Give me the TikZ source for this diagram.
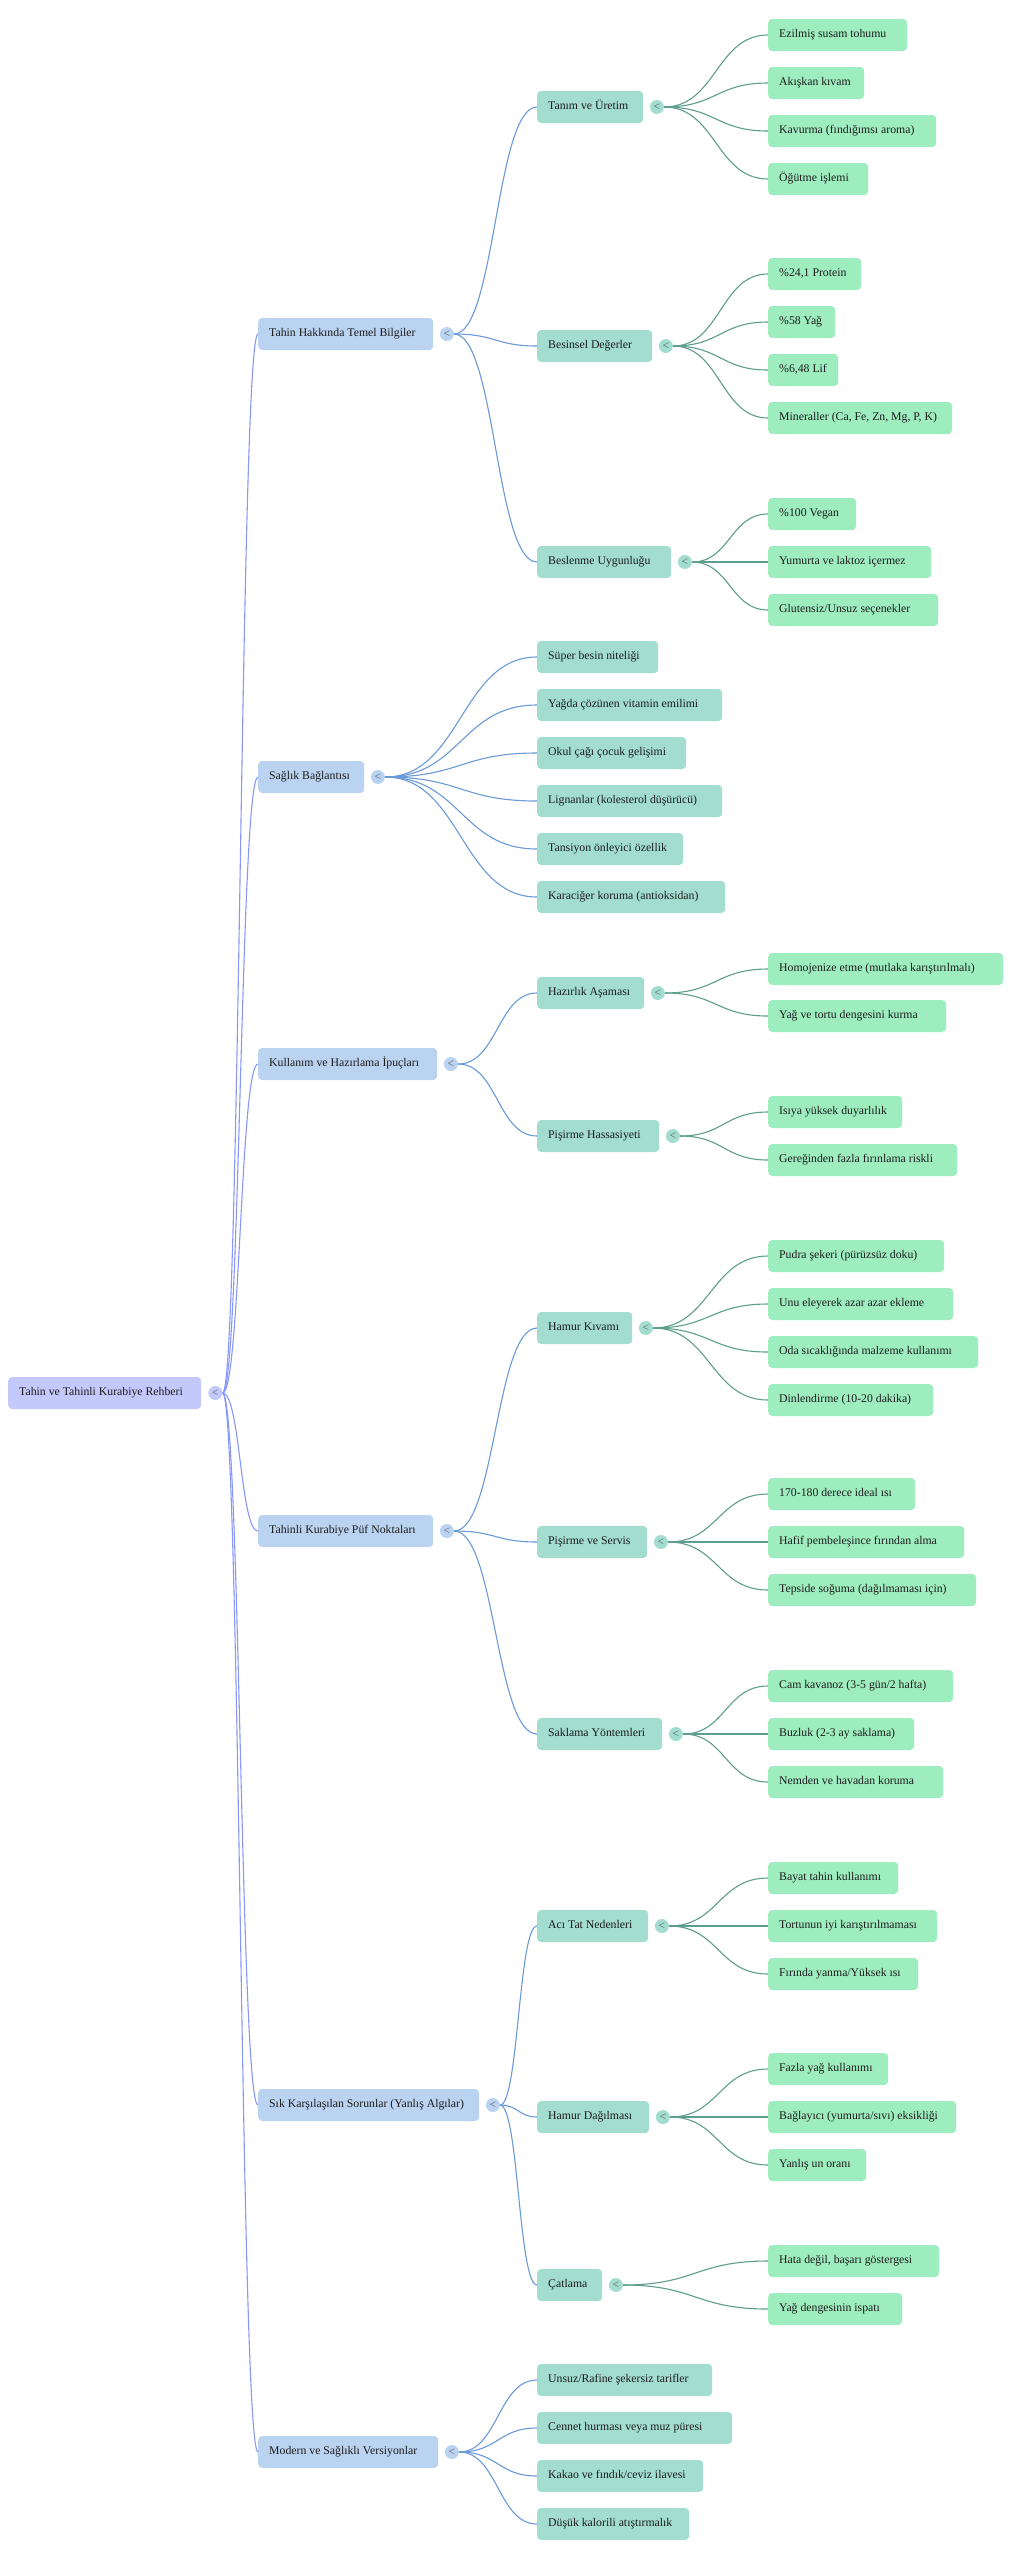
\documentclass[tikz,border=0pt]{standalone}
\usepackage{fontspec}
\setmainfont{Liberation Serif}
\usetikzlibrary{calc}
\definecolor{rootc}{HTML}{C4C9FC}
\definecolor{lonec}{HTML}{BAD3F0}
\definecolor{ltwoc}{HTML}{A2DDD0}
\definecolor{lthreec}{HTML}{9EEDBF}
\definecolor{ezero}{HTML}{8898FA}
\definecolor{eone}{HTML}{6A9AD8}
\definecolor{etwo}{HTML}{5E9E8C}
\definecolor{txtc}{HTML}{1C1C1C}
\newcommand\tx[2]{\makebox[\dimexpr#1pt-22pt\relax][l]{\strut#2}}
\newcommand\lk[3]{\draw[#1] let \p1=(#2.east), \p2=(#3.west) in (\p1) .. controls ({(\x1+\x2)/2},\y1) and ({(\x1+\x2)/2},\y2) .. (\p2);}
\tikzset{
  box/.style={rounded corners=4pt, minimum height=32pt, inner xsep=11pt, inner ysep=0pt, anchor=west, text=txtc, font=\fontsize{11.76}{14}\selectfont},
  rbox/.style={box, fill=rootc},
  onebox/.style={box, fill=lonec},
  twobox/.style={box, fill=ltwoc},
  threebox/.style={box, fill=lthreec},
  tg/.style={circle, minimum size=14pt, inner sep=0pt, text=black!65, font=\fontsize{11.5}{11.5}\selectfont},
  ez/.style={ezero, line width=1.1pt},
  eo/.style={eone, line width=1.1pt},
  et/.style={etwo, line width=1.1pt}
}
\begin{document}
\begin{tikzpicture}[x=1pt,y=-1pt]
\fill[white] (0,0) rectangle (1031,2560);
\useasboundingbox (0,0) rectangle (1031,2560);
% root
\node[rbox] (R) at (8,1393) {\tx{193}{Tahin ve Tahinli Kurabiye Rehberi}};
% level 1
\node[onebox] (A) at (258,334) {\tx{175}{Tahin Hakkında Temel Bilgiler}};
\node[onebox] (B) at (258,777) {\tx{106}{Sağlık Bağlantısı}};
\node[onebox] (C) at (258,1064) {\tx{179}{Kullanım ve Hazırlama İpuçları}};
\node[onebox] (D) at (258,1531) {\tx{175}{Tahinli Kurabiye Püf Noktaları}};
\node[onebox] (E) at (258,2105) {\tx{221}{Sık Karşılaşılan Sorunlar (Yanlış Algılar)}};
\node[onebox] (F) at (258,2452) {\tx{180}{Modern ve Sağlıklı Versiyonlar}};
% level 2
\node[twobox] (A1) at (537,107) {\tx{106}{Tanım ve Üretim}};
\node[twobox] (A2) at (537,346) {\tx{115}{Besinsel Değerler}};
\node[twobox] (A3) at (537,562) {\tx{134}{Beslenme Uygunluğu}};
\node[twobox] (B1) at (537,657) {\tx{121}{Süper besin niteliği}};
\node[twobox] (B2) at (537,705) {\tx{185}{Yağda çözünen vitamin emilimi}};
\node[twobox] (B3) at (537,753) {\tx{149}{Okul çağı çocuk gelişimi}};
\node[twobox] (B4) at (537,801) {\tx{185}{Lignanlar (kolesterol düşürücü)}};
\node[twobox] (B5) at (537,849) {\tx{146}{Tansiyon önleyici özellik}};
\node[twobox] (B6) at (537,897) {\tx{188}{Karaciğer koruma (antioksidan)}};
\node[twobox] (C1) at (537,993) {\tx{107}{Hazırlık Aşaması}};
\node[twobox] (C2) at (537,1136) {\tx{122}{Pişirme Hassasiyeti}};
\node[twobox] (D1) at (537,1328) {\tx{95}{Hamur Kıvamı}};
\node[twobox] (D2) at (537,1542) {\tx{110}{Pişirme ve Servis}};
\node[twobox] (D3) at (537,1734) {\tx{125}{Saklama Yöntemleri}};
\node[twobox] (E1) at (537,1926) {\tx{111}{Acı Tat Nedenleri}};
\node[twobox] (E2) at (537,2117) {\tx{112}{Hamur Dağılması}};
\node[twobox] (E3) at (537,2285) {\tx{65}{Çatlama}};
\node[twobox] (F1) at (537,2380) {\tx{175}{Unsuz/Rafine şekersiz tarifler}};
\node[twobox] (F2) at (537,2428) {\tx{195}{Cennet hurması veya muz püresi}};
\node[twobox] (F3) at (537,2476) {\tx{166}{Kakao ve fındık/ceviz ilavesi}};
\node[twobox] (F4) at (537,2524) {\tx{152}{Düşük kalorili atıştırmalık}};
% level 3
\node[threebox] (A1a) at (768,35) {\tx{139}{Ezilmiş susam tohumu}};
\node[threebox] (A1b) at (768,83) {\tx{96}{Akışkan kıvam}};
\node[threebox] (A1c) at (768,131) {\tx{168}{Kavurma (fındığımsı aroma)}};
\node[threebox] (A1d) at (768,179) {\tx{100}{Öğütme işlemi}};
\node[threebox] (A2a) at (768,274) {\tx{93}{\%24,1 Protein}};
\node[threebox] (A2b) at (768,322) {\tx{67}{\%58 Yağ}};
\node[threebox] (A2c) at (768,370) {\tx{70}{\%6,48 Lif}};
\node[threebox] (A2d) at (768,418) {\tx{184}{Mineraller (Ca, Fe, Zn, Mg, P, K)}};
\node[threebox] (A3a) at (768,514) {\tx{88}{\%100 Vegan}};
\node[threebox] (A3b) at (768,562) {\tx{163}{Yumurta ve laktoz içermez}};
\node[threebox] (A3c) at (768,610) {\tx{170}{Glutensiz/Unsuz seçenekler}};
\node[threebox] (C1a) at (768,969) {\tx{235}{Homojenize etme (mutlaka karıştırılmalı)}};
\node[threebox] (C1b) at (768,1016) {\tx{178}{Yağ ve tortu dengesini kurma}};
\node[threebox] (C2a) at (768,1112) {\tx{134}{Isıya yüksek duyarlılık}};
\node[threebox] (C2b) at (768,1160) {\tx{189}{Gereğinden fazla fırınlama riskli}};
\node[threebox] (D1a) at (768,1256) {\tx{176}{Pudra şekeri (pürüzsüz doku)}};
\node[threebox] (D1b) at (768,1304) {\tx{185}{Unu eleyerek azar azar ekleme}};
\node[threebox] (D1c) at (768,1352) {\tx{210}{Oda sıcaklığında malzeme kullanımı}};
\node[threebox] (D1d) at (768,1400) {\tx{165}{Dinlendirme (10-20 dakika)}};
\node[threebox] (D2a) at (768,1494) {\tx{147}{170-180 derece ideal ısı}};
\node[threebox] (D2b) at (768,1542) {\tx{196}{Hafif pembeleşince fırından alma}};
\node[threebox] (D2c) at (768,1590) {\tx{208}{Tepside soğuma (dağılmaması için)}};
\node[threebox] (D3a) at (768,1686) {\tx{185}{Cam kavanoz (3-5 gün/2 hafta)}};
\node[threebox] (D3b) at (768,1734) {\tx{146}{Buzluk (2-3 ay saklama)}};
\node[threebox] (D3c) at (768,1782) {\tx{175}{Nemden ve havadan koruma}};
\node[threebox] (E1a) at (768,1878) {\tx{130}{Bayat tahin kullanımı}};
\node[threebox] (E1b) at (768,1926) {\tx{169}{Tortunun iyi karıştırılmaması}};
\node[threebox] (E1c) at (768,1974) {\tx{150}{Fırında yanma/Yüksek ısı}};
\node[threebox] (E2a) at (768,2069) {\tx{120}{Fazla yağ kullanımı}};
\node[threebox] (E2b) at (768,2117) {\tx{188}{Bağlayıcı (yumurta/sıvı) eksikliği}};
\node[threebox] (E2c) at (768,2165) {\tx{98}{Yanlış un oranı}};
\node[threebox] (E3a) at (768,2261) {\tx{171}{Hata değil, başarı göstergesi}};
\node[threebox] (E3b) at (768,2309) {\tx{134}{Yağ dengesinin ispatı}};
% toggles
\node[tg, fill=rootc] (tR) at ([xshift=14pt]R.east) {<};
\foreach \k in {A,B,C,D,E,F} {\node[tg, fill=lonec] (t\k) at ([xshift=13.5pt]\k.east) {<};}
\foreach \k in {A1,A2,A3,C1,C2,D1,D2,D3,E1,E2,E3} {\node[tg, fill=ltwoc] (t\k) at ([xshift=13.5pt]\k.east) {<};}
% root edges
\foreach \k in {A,B,C,D,E,F} {\lk{ez}{tR}{\k}}
% level 1 edges
\foreach \k in {A1,A2,A3} {\lk{eo}{tA}{\k}}
\foreach \k in {B1,B2,B3,B4,B5,B6} {\lk{eo}{tB}{\k}}
\foreach \k in {C1,C2} {\lk{eo}{tC}{\k}}
\foreach \k in {D1,D2,D3} {\lk{eo}{tD}{\k}}
\foreach \k in {E1,E2,E3} {\lk{eo}{tE}{\k}}
\foreach \k in {F1,F2,F3,F4} {\lk{eo}{tF}{\k}}
% level 2 edges
\foreach \k in {a,b,c,d} {\lk{et}{tA1}{A1\k}}
\foreach \k in {a,b,c,d} {\lk{et}{tA2}{A2\k}}
\foreach \k in {a,b,c} {\lk{et}{tA3}{A3\k}}
\foreach \k in {a,b} {\lk{et}{tC1}{C1\k}}
\foreach \k in {a,b} {\lk{et}{tC2}{C2\k}}
\foreach \k in {a,b,c,d} {\lk{et}{tD1}{D1\k}}
\foreach \k in {a,b,c} {\lk{et}{tD2}{D2\k}}
\foreach \k in {a,b,c} {\lk{et}{tD3}{D3\k}}
\foreach \k in {a,b,c} {\lk{et}{tE1}{E1\k}}
\foreach \k in {a,b,c} {\lk{et}{tE2}{E2\k}}
\foreach \k in {a,b} {\lk{et}{tE3}{E3\k}}
\end{tikzpicture}
\end{document}
